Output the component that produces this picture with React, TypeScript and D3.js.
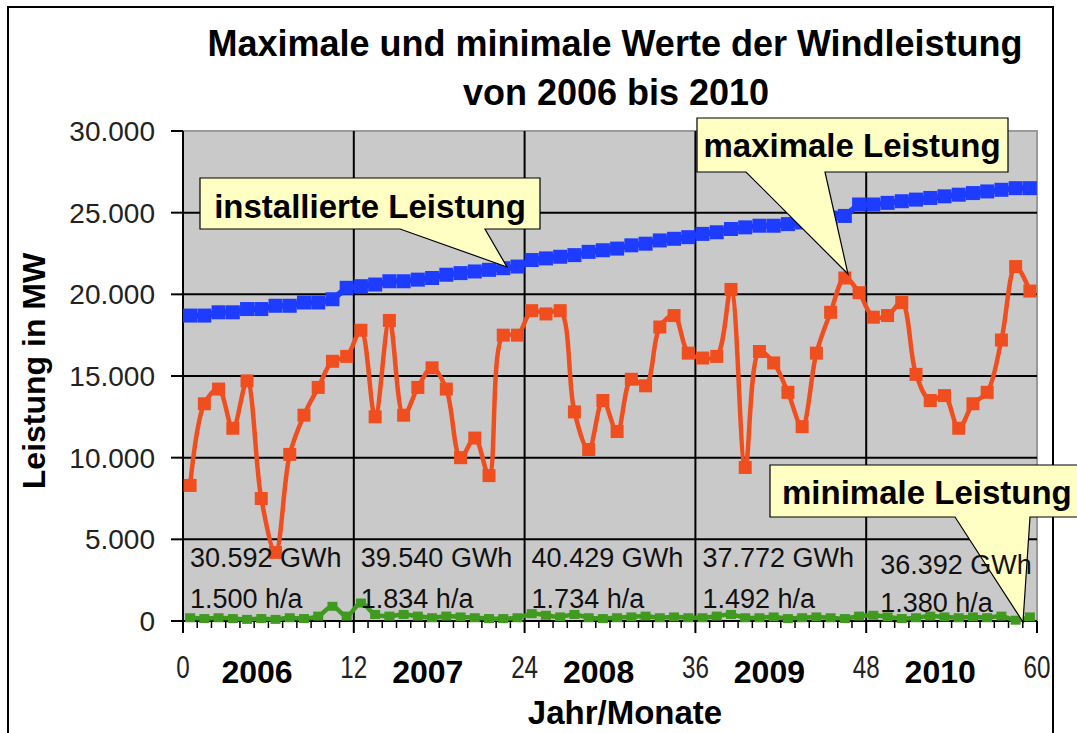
import * as d3 from 'd3';

// monthly values 2006-2010 (MW)
const installed = [
  18700, 18700, 18900, 18900, 19100, 19100, 19300, 19300, 19500, 19500, 19700, 20400,
  20500, 20600, 20800, 20800, 20900, 21000, 21200, 21300, 21400, 21500, 21600, 21700,
  22100, 22200, 22300, 22400, 22600, 22700, 22800, 23000, 23100, 23300, 23400, 23500,
  23700, 23800, 24000, 24100, 24200, 24200, 24300, 24400, 24600, 24700, 24800, 25500,
  25500, 25600, 25700, 25800, 25900, 26000, 26100, 26200, 26300, 26400, 26500, 26500,
];
const maxPower = [
  8300, 13300, 14200, 11800, 14700, 7500, 4200, 10200, 12600, 14300, 15900, 16200,
  17800, 12500, 18400, 12600, 14300, 15500, 14200, 10000, 11200, 8900, 17500, 17500,
  19000, 18800, 19000, 12800, 10500, 13500, 11600, 14800, 14400, 18000, 18700, 16400,
  16100, 16200, 20300, 9400, 16500, 15800, 14000, 11900, 16400, 18900, 21000, 20100,
  18600, 18700, 19500, 15100, 13500, 13800, 11800, 13300, 14000, 17200, 21700, 20200,
];
const minPower = [
  200, 150, 200, 150, 100, 150, 100, 200, 150, 300, 900, 300,
  1100, 400, 300, 400, 300, 200, 300, 250, 200, 150, 150, 200,
  450, 350, 250, 400, 200, 150, 200, 250, 300, 200, 250, 200,
  200, 300, 400, 200, 200, 250, 150, 200, 250, 200, 150, 300,
  350, 250, 150, 200, 300, 250, 200, 250, 200, 300, 50, 250,
];

const years = ['2006', '2007', '2008', '2009', '2010'];
const yearEnergy = ['30.592 GWh', '39.540 GWh', '40.429 GWh', '37.772 GWh', '36.392 GWh'];
const yearHours = ['1.500 h/a', '1.834 h/a', '1.734 h/a', '1.492 h/a', '1.380 h/a'];
const monthTicks = [0, 12, 24, 36, 48, 60];
const yTicks = [0, 5000, 10000, 15000, 20000, 25000, 30000];

const WIDTH = 1077;
const HEIGHT = 733;
const PLOT = { left: 183, right: 1037, top: 131, bottom: 621 };

const FONT = "'Liberation Sans', Arial, sans-serif";
const YELLOW = '#ffffc4';
const BLUE = '#1d3cff';
const ORANGE = '#f04e1e';
const GREEN = '#3f9a1f';

const de = d3.formatLocale({ decimal: ',', thousands: '.', grouping: [3], currency: ['', '€'] });
const fmt = de.format(',');

const App = () => {
  const xScale = d3.scaleLinear().domain([0, 60]).range([PLOT.left, PLOT.right]);
  const yScale = d3.scaleLinear().domain([0, 30000]).range([PLOT.bottom, PLOT.top]);

  // excel "smoothed line"
  const smooth = d3
    .line<number>()
    .x((_, i) => xScale(i + 0.5))
    .y((d) => yScale(d))
    .curve(d3.curveCatmullRom.alpha(0.5));
  const straight = d3
    .line<number>()
    .x((_, i) => xScale(i + 0.5))
    .y((d) => yScale(d));

  // callout shape: box with a pointer from its bottom edge
  const callout = (x0: number, y0: number, x1: number, y1: number, pa: number, pb: number, tx: number, ty: number) =>
    `M${x0},${y0}H${x1}V${y1}H${pb}L${tx},${ty}L${pa},${y1}H${x0}Z`;

  const months = d3.range(0, 61);

  return (
    <svg width={WIDTH} height={HEIGHT} style={{ position: 'absolute', left: 0, top: 0, background: '#fff' }}>
      {/* frame */}
      <rect x={8} y={7} width={1045} height={740} fill="none" stroke="#000" strokeWidth={2} />

      {/* title */}
      <text x={615} y={56} textAnchor="middle" fontFamily={FONT} fontWeight="bold" fontSize={36}>
        Maximale und minimale Werte der Windleistung
      </text>
      <text x={616} y={105} textAnchor="middle" fontFamily={FONT} fontWeight="bold" fontSize={36}>
        von 2006 bis 2010
      </text>

      {/* plot background */}
      <rect
        x={PLOT.left}
        y={PLOT.top}
        width={PLOT.right - PLOT.left}
        height={PLOT.bottom - PLOT.top}
        fill="#c9c9c9"
        stroke="#9a9a9a"
        strokeWidth={2}
      />

      {/* horizontal grid */}
      {yTicks.slice(1, -1).map((v) => (
        <line key={v} x1={PLOT.left} x2={PLOT.right} y1={yScale(v)} y2={yScale(v)} stroke="#000" strokeWidth={2} />
      ))}
      {/* vertical grid */}
      {monthTicks.slice(1, -1).map((m) => (
        <line key={m} x1={xScale(m)} x2={xScale(m)} y1={PLOT.top} y2={PLOT.bottom} stroke="#000" strokeWidth={2} />
      ))}

      {/* y axis */}
      <line x1={PLOT.left} x2={PLOT.left} y1={PLOT.top} y2={PLOT.bottom + 12} stroke="#000" strokeWidth={2} />
      {yTicks.map((v) => (
        <g key={v}>
          <line x1={PLOT.left - 12} x2={PLOT.left} y1={yScale(v)} y2={yScale(v)} stroke="#000" strokeWidth={2} />
          <text x={155} y={yScale(v) + 10} textAnchor="end" fontFamily={FONT} fontSize={28} fill="#222">
            {fmt(v)}
          </text>
        </g>
      ))}

      {/* x axis */}
      <line x1={PLOT.left} x2={PLOT.right} y1={PLOT.bottom} y2={PLOT.bottom} stroke="#000" strokeWidth={2} />
      {months.map((m) => (
        <line
          key={m}
          x1={xScale(m)}
          x2={xScale(m)}
          y1={PLOT.bottom}
          y2={PLOT.bottom + (m % 12 === 0 ? 12 : 7)}
          stroke="#000"
          strokeWidth={m % 12 === 0 ? 2 : 1.5}
        />
      ))}
      {monthTicks.map((m) => (
        <g key={m} transform={`translate(${xScale(m)},678) scale(0.78,1)`}>
          <text textAnchor="middle" fontFamily={FONT} fontSize={31} fill="#222">
            {m}
          </text>
        </g>
      ))}
      {years.map((y, i) => (
        <text key={y} x={xScale(i * 12 + 5.2)} y={683} textAnchor="middle" fontFamily={FONT} fontWeight="bold" fontSize={32}>
          {y}
        </text>
      ))}
      <text x={625} y={724} textAnchor="middle" fontFamily={FONT} fontWeight="bold" fontSize={33}>
        Jahr/Monate
      </text>

      {/* y label */}
      <text
        transform="translate(45,371) rotate(-90)"
        textAnchor="middle"
        fontFamily={FONT}
        fontWeight="bold"
        fontSize={32}
      >
        Leistung in MW
      </text>

      {/* series */}
      <path d={straight(installed) ?? ''} fill="none" stroke={BLUE} strokeWidth={6} />
      {installed.map((d, i) => (
        <rect key={i} x={xScale(i + 0.5) - 7} y={yScale(d) - 7} width={14} height={14} fill={BLUE} />
      ))}

      <path d={smooth(maxPower) ?? ''} fill="none" stroke={ORANGE} strokeWidth={4.5} />
      {maxPower.map((d, i) => (
        <rect key={i} x={xScale(i + 0.5) - 6.5} y={yScale(d) - 6.5} width={13} height={13} fill={ORANGE} />
      ))}

      <path d={smooth(minPower) ?? ''} fill="none" stroke={GREEN} strokeWidth={4.5} />
      {minPower.map((d, i) => (
        <rect key={i} x={xScale(i + 0.5) - 5} y={yScale(d) - 4.5} width={10} height={9} fill={GREEN} />
      ))}

      {/* callouts */}
      <path d={callout(200, 178, 540, 229, 400, 485, 507, 267)} fill={YELLOW} stroke="#000" strokeWidth={1.2} />
      <text x={370} y={218} textAnchor="middle" fontFamily={FONT} fontWeight="bold" fontSize={33}>
        installierte Leistung
      </text>

      <path d={callout(697, 118, 1008, 172, 746, 825, 848, 274)} fill={YELLOW} stroke="#000" strokeWidth={1.2} />
      <text x={852} y={157} textAnchor="middle" fontFamily={FONT} fontWeight="bold" fontSize={33}>
        maximale Leistung
      </text>

      <path d={callout(770, 465, 1090, 517, 955, 1030, 1023, 622)} fill={YELLOW} stroke="#000" strokeWidth={1.2} />
      <text x={782} y={504} fontFamily={FONT} fontWeight="bold" fontSize={33}>
        minimale Leistung
      </text>

      {/* yearly energy / full load hours (on top of the callout pointer) */}
      {yearEnergy.map((t, i) => (
        <g key={t}>
          <text x={xScale(i * 12) + (i === 4 ? 14 : 7)} y={i === 4 ? 574 : 567} fontFamily={FONT} fontSize={27} fill="#111">
            {t}
          </text>
          <text x={xScale(i * 12) + (i === 4 ? 14 : 7)} y={i === 4 ? 612 : 608} fontFamily={FONT} fontSize={27} fill="#111">
            {yearHours[i]}
          </text>
        </g>
      ))}
    </svg>
  );
};

export default App;
